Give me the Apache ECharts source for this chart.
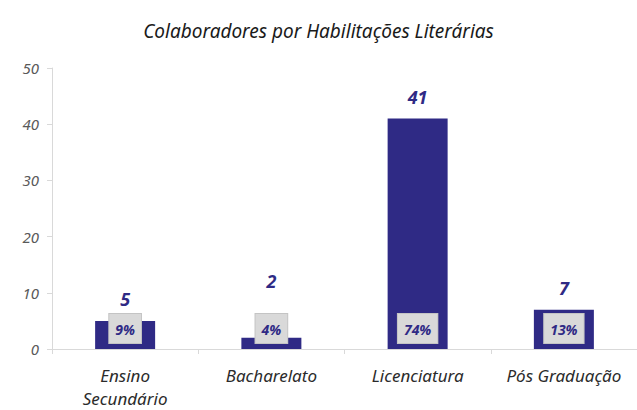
<!DOCTYPE html>
<html>
<head>
<meta charset="utf-8">
<script src="https://cdn.jsdelivr.net/npm/echarts@6/dist/echarts.min.js"></script>
<style>
  html, body { margin: 0; padding: 0; background: #fff; }
  #chart { width: 637px; height: 410px; }
</style>
</head>
<body>
<div id="chart"></div>
<script>
// ── Data ────────────────────────────────────────────────────────────────
const categories = ['Ensino\nSecundário', 'Bacharelato', 'Licenciatura', 'Pós Graduação'];
const counts     = [5, 2, 41, 7];
const shares     = ['9%', '4%', '74%', '13%'];
const yTicks     = [0, 10, 20, 30, 40, 50];

// ── Style ───────────────────────────────────────────────────────────────
const fontFamily = '"Noto Sans", "Open Sans", sans-serif';
const barColor   = '#2f2a85';
const boxFill    = '#d9d9d9';
const boxBorder  = '#c4c4c4';
const axisGray   = '#d9d9d9';

const chart = echarts.init(document.getElementById('chart'), null, { renderer: 'svg' });

// the "2" label sits higher in the original to clear the grey box
const countData = counts.map((v, i) => i === 1
  ? { value: v, label: { distance: 48 } }
  : v);

chart.setOption({
  animation: false,
  title: {
    text: 'Colaboradores por Habilitações Literárias',
    left: 'center', top: 16,
    textStyle: { fontFamily, fontStyle: 'italic', fontWeight: 'normal', fontSize: 19, color: '#1a1a1a' },
  },
  grid: { left: 52, right: 0, top: 68, bottom: 58 },
  xAxis: {
    type: 'category',
    data: categories,
    axisLine: { lineStyle: { color: axisGray, width: 1 } },
    axisTick: { show: true, length: 5, lineStyle: { color: axisGray } },
    axisLabel: {
      interval: 0, hideOverlap: false,
      fontFamily, fontStyle: 'italic', fontSize: 17, color: '#2b2b2b',
      margin: 15, lineHeight: 23,
    },
  },
  yAxis: {
    type: 'value',
    min: yTicks[0], max: yTicks[yTicks.length - 1], interval: 10,
    axisLine: { show: true, lineStyle: { color: axisGray } },
    axisTick: { show: true, length: 5, lineStyle: { color: axisGray } },
    splitLine: { show: false },
    axisLabel: { fontFamily, fontStyle: 'italic', fontSize: 15, color: '#595959', margin: 13 },
  },
  series: [
    {
      name: 'Colaboradores',
      type: 'bar',
      data: countData,
      barWidth: 60,
      itemStyle: { color: barColor },
      label: {
        show: true, position: 'top', distance: 13,
        fontFamily, fontStyle: 'italic', fontWeight: 'bold', fontSize: 18, color: barColor,
      },
    },
    {
      name: 'Percentagem',
      type: 'bar',
      data: counts,
      barWidth: 60,
      barGap: '-100%',
      silent: true,
      itemStyle: { color: 'transparent' },
      label: {
        show: true, position: 'insideBottom', distance: 6,
        formatter: (p) => shares[p.dataIndex],
        fontFamily, fontStyle: 'italic', fontWeight: 'bold', fontSize: 14, color: barColor,
        backgroundColor: boxFill, borderColor: boxBorder, borderWidth: 1,
        padding: [8, 6, 7, 6],
      },
    },
  ],
});
</script>
</body>
</html>
